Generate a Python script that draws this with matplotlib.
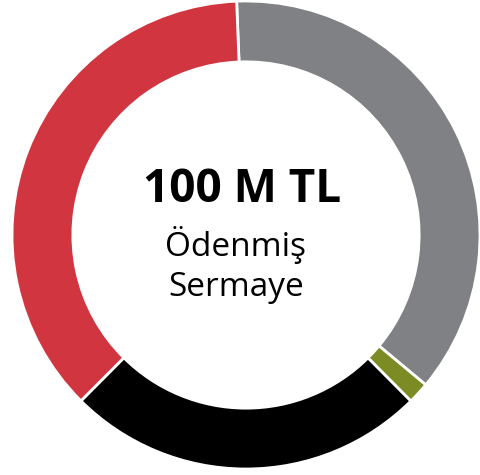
import matplotlib.pyplot as plt

# shareholder split of the paid-in capital (clockwise from top)
labels = ['Gri', 'Yeşil', 'Siyah', 'Kırmızı']
shares = [36.7, 1.5, 24.9, 36.9]
colors = ['#808185', '#7D8B24', '#000000', '#D1353F']

title = '100 M TL'
subtitle = ['Ödenmiş', 'Sermaye']

fig = plt.figure(figsize=(4.81, 4.75), dpi=100)
ax = fig.add_axes([12 / 481, 6 / 475, 468 / 481, 468 / 475])

ax.pie(shares, colors=colors, startangle=92.3, counterclock=False,
       radius=1.0,
       wedgeprops=dict(width=0.26, edgecolor='white', linewidth=2))
ax.set_xlim(-1, 1)
ax.set_ylim(-1, 1)
ax.set_aspect('equal')
ax.axis('off')

ax.text(-0.015, 0.141, title, ha='center', va='baseline',
        fontsize=33, fontweight='bold', family='Open Sans')
ax.text(-0.043, -0.088, subtitle[0], ha='center', va='baseline',
        fontsize=24, family='Open Sans')
ax.text(-0.040, -0.261, subtitle[1], ha='center', va='baseline',
        fontsize=24, family='Open Sans')

plt.savefig('out.png', dpi=100)
